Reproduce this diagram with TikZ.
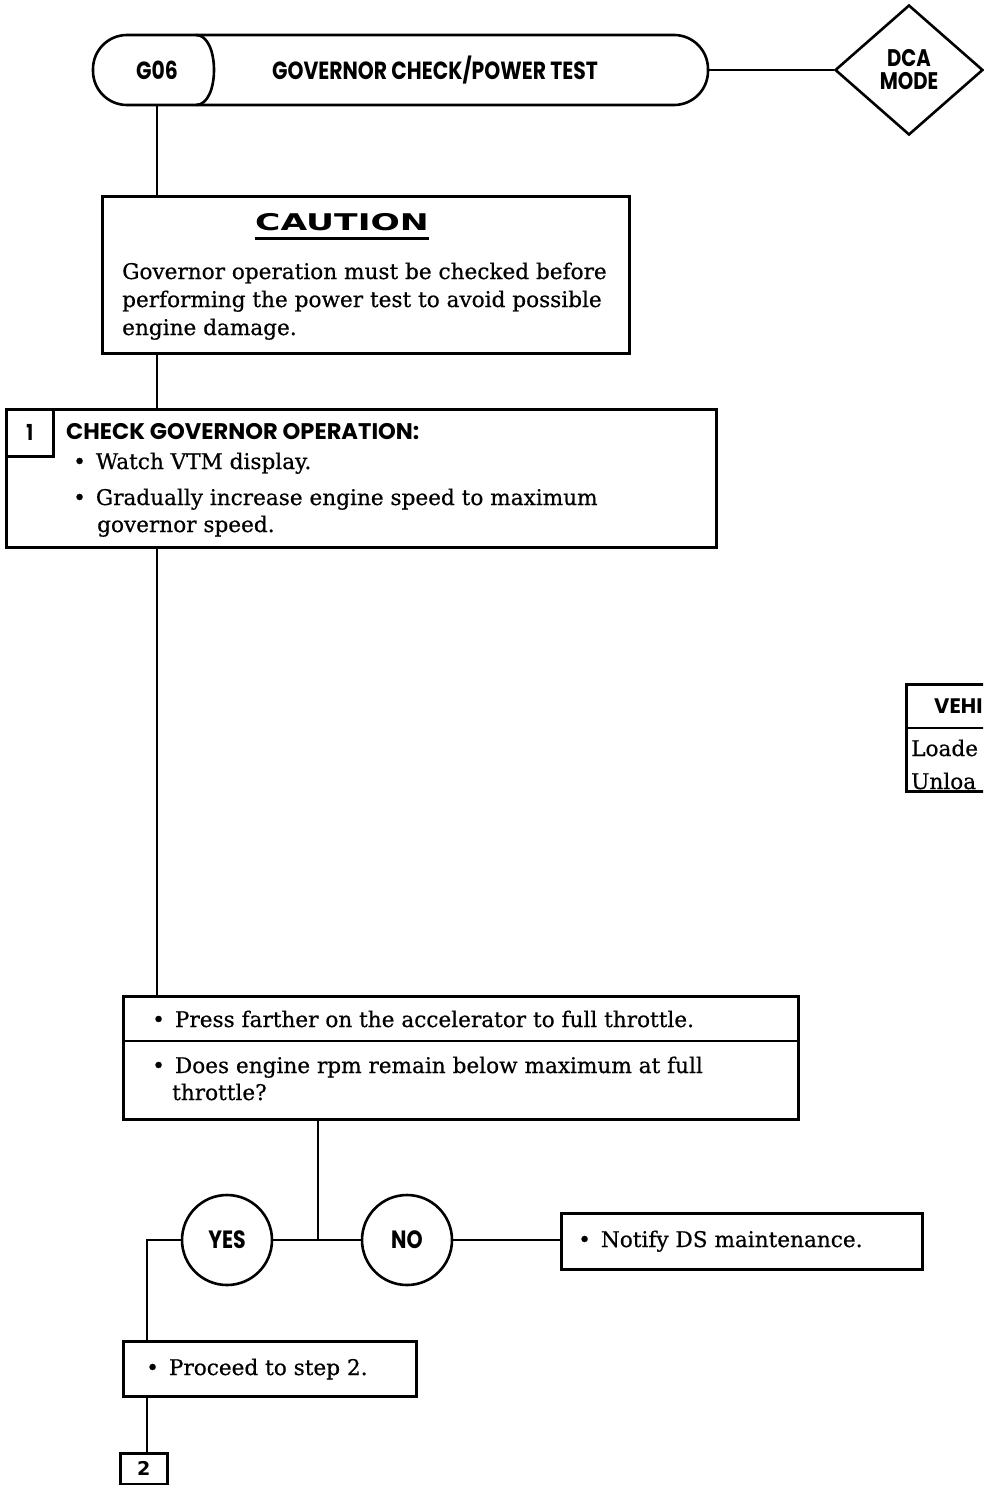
\documentclass[tikz,border=0pt]{standalone}
\usepackage{fontspec}
\setmainfont[FakeBold=0.6]{DejaVu Serif}
\newfontfamily\hdfont[FakeStretch=0.82]{Poppins}
\newfontfamily\hdwide{Poppins}
\newfontfamily\cautfont[FakeStretch=1.5]{DejaVu Sans}
\usetikzlibrary{shapes.geometric,calc}
\tikzset{
  box/.style={draw, line width=2.6pt, rectangle, inner sep=0pt},
  conn/.style={line width=2.4pt},
  body/.style={font=\fontsize{21.6}{25}\selectfont, inner sep=0pt, anchor=base west},
  hd/.style={font=\hdfont\bfseries\fontsize{24.8}{28}\selectfont, inner sep=0pt},
  ring/.style={draw, line width=2.6pt, circle, minimum size=90pt, inner sep=0pt, font=\hdfont\bfseries\fontsize{25}{28}\selectfont},
}
\begin{document}
\begin{tikzpicture}[x=1pt,y=-1pt]
\useasboundingbox (0,0) rectangle (983,1485);
% title pill
\node[draw, line width=2.6pt, rounded corners=34pt, minimum width=615pt, minimum height=70pt, inner sep=0pt] (title) at (400.5,70) {};
\draw[line width=2.6pt] (196,35) .. controls (220,35) and (220,105) .. (196,105);
\node[hd] (g06) at (157,70) {G06};
\node[hd] (ttext) at (435,70) {GOVERNOR CHECK/POWER TEST};
\node[draw, line width=2.6pt, diamond, minimum width=148pt, minimum height=130pt, inner sep=0pt, aspect=1.14] (dca) at (909,70) {};
\node[hd, align=center, font=\hdfont\bfseries\fontsize{24}{23}\selectfont] (dcat) at (909,70) {DCA\\MODE};
\draw[conn] (title.east) -- (dca.west);
% caution
\node[box, minimum width=527pt, minimum height=157pt, anchor=north west] (caut) at (101,195) {};
\node[font=\cautfont\bfseries\fontsize{23}{26}\selectfont, inner sep=0pt] (cauth) at (342,222) {CAUTION};
\draw[line width=3pt] ($(cauth.south west)+(0,8)$) -- ($(cauth.south east)+(0,8)$);
\node[body] (c1) at (122,279) {Governor operation must be checked before};
\node[body] (c2) at (122,307) {performing the power test to avoid possible};
\node[body] (c3) at (122,335) {engine damage.};
\draw[conn] (g06.south |- title.south) -- (g06.south |- caut.north);
% step 1
\node[box, minimum width=710pt, minimum height=138pt, anchor=north west] (s1) at (5,408) {};
\node[box, minimum width=47pt, minimum height=47pt, anchor=north west, font=\hdfont\bfseries\fontsize{22}{24}\selectfont] (n1) at (5,408) {1};
\node[hd, anchor=west, font=\hdwide\bfseries\fontsize{22.6}{24}\selectfont] (s1h) at (66,432) {CHECK GOVERNOR OPERATION:};
\node[body] (s1a) at (73,469) {\textbullet\hspace{10pt}Watch VTM display.};
\node[body] (s1b) at (73,505) {\textbullet\hspace{10pt}Gradually increase engine speed to maximum};
\node[body] (s1c) at (97,532) {governor speed.};
\draw[conn] (g06.south |- caut.south) -- (g06.south |- s1.north);
% step box 2
\node[box, minimum width=675pt, minimum height=123pt, anchor=north west] (b2) at (122,995) {};
\draw[line width=2.6pt] (b2.west |- 0,1041) -- (b2.east |- 0,1041);
\node[body] (b2a) at (152,1027) {\textbullet\hspace{10pt}Press farther on the accelerator to full throttle.};
\node[body] (b2b) at (152,1073) {\textbullet\hspace{10pt}Does engine rpm remain below maximum at full};
\node[body] (b2c) at (172,1100) {throttle?};
\draw[conn] (g06.south |- s1.south) -- (g06.south |- b2.north);
% yes / no
\node[ring] (yes) at (227,1240) {YES};
\node[ring] (no) at (407,1240) {NO};
\coordinate (jn) at (318,1240);
\draw[conn] (yes.east) -- (no.west);
\draw[conn] (jn) -- (jn |- b2.south);
\node[box, minimum width=361pt, minimum height=56pt, anchor=north west] (notify) at (560,1212) {};
\node[body] (nt) at (578,1247) {\textbullet\hspace{10pt}Notify DS maintenance.};
\draw[conn] (no.east) -- (no.east -| notify.west);
\node[box, minimum width=293pt, minimum height=55pt, anchor=north west] (proc) at (122,1340) {};
\node[body] (pt) at (146,1375) {\textbullet\hspace{10pt}Proceed to step 2.};
\coordinate (yl) at (147,1240);
\draw[conn] (yes.west) -- (yl) -- (yl |- proc.north);
\node[box, minimum width=47pt, minimum height=31pt, anchor=north west, font=\cautfont\bfseries\fontsize{19}{22}\selectfont] (n2) at (119,1452) {\scalebox{0.67}[1]{2}};
\draw[conn] (yl |- proc.south) -- (yl |- n2.north);
% partial table at right edge
\begin{scope}
\clip (890,670) rectangle (983,800);
\node[box, minimum width=200pt, minimum height=107pt, anchor=north west] (tab) at (905,683) {};
\draw[line width=2.6pt] (tab.west |- 0,728) -- (tab.east |- 0,728);
\end{scope}
\node[hd, anchor=west, font=\hdwide\bfseries\fontsize{21}{24}\selectfont] (tabh) at (934,706) {VEHI};
\node[body] (tl) at (911,756) {Loade};
\node[body] (tu) at (911,789) {Unloa};
\end{tikzpicture}
\end{document}
